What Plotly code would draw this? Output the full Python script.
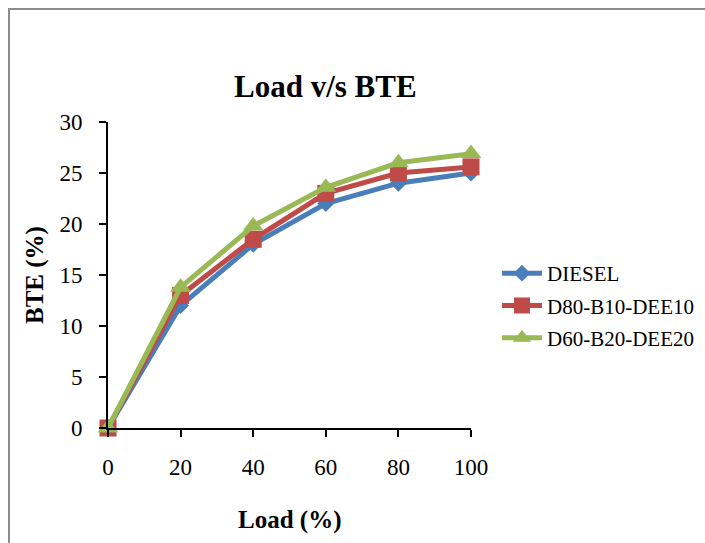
import plotly.graph_objects as go

load = [0, 20, 40, 60, 80, 100]
diesel = [0, 12, 18, 22, 24, 25]
d80 = [0, 13, 18.5, 23, 25, 25.6]
d60 = [0, 13.8, 19.8, 23.6, 26, 26.9]
y_ticks = [0, 5, 10, 15, 20, 25, 30]
x_ticks = [0, 20, 40, 60, 80, 100]

L, R, T, B = 108, 471, 122, 428
W, H = 705, 543
def px(x):
    return (x - L) / (R - L)
def py(y):
    return (B - y) / (B - T)

fig = go.Figure()
series = [
    ("DIESEL", diesel, "#4A7EBB", "diamond", 13),
    ("D80-B10-DEE10", d80, "#BE4B48", "square", 17),
    ("D60-B20-DEE20", d60, "#98B954", "triangle-up", 18),
]
for name, ys, col, sym, sz in series:
    fig.add_trace(go.Scatter(x=load, y=ys, name=name, mode="lines+markers",
                             legendgroup=name,
                             line=dict(color=col, width=5),
                             marker=dict(symbol=sym, size=sz, color=col),
                             cliponaxis=False))

font_serif = "Liberation Serif, Times New Roman, serif"
fig.update_layout(
    width=W, height=H,
    margin=dict(l=L, r=W - R, t=T, b=H - B, autoexpand=False),
    paper_bgcolor="white", plot_bgcolor="white",
    font=dict(family=font_serif, color="black", size=23),
    showlegend=True,
    legend=dict(x=px(497), y=py(253), xanchor="left", yanchor="top",
                font=dict(size=21, family=font_serif), tracegroupgap=2,
                itemwidth=40, bgcolor="rgba(0,0,0,0)"),
    xaxis=dict(range=[0, 100], tickvals=x_ticks, showline=True, linecolor="black",
               linewidth=2, ticks="outside", ticklen=7, tickcolor="black", tickwidth=2,
               showgrid=False, zeroline=False, tickfont=dict(size=23),
               ticklabelstandoff=10),
    yaxis=dict(range=[0, 30], tickvals=y_ticks, showline=True, linecolor="black",
               linewidth=2, ticks="outside", ticklen=7, tickcolor="black", tickwidth=2,
               showgrid=False, zeroline=False, tickfont=dict(size=23),
               ticklabelstandoff=12),
    annotations=[
        dict(text="<b>Load v/s BTE</b>", xref="paper", yref="paper",
             x=px(325), y=py(86), xanchor="center", yanchor="middle",
             showarrow=False, font=dict(size=31)),
        dict(text="<b>BTE (%)</b>", xref="paper", yref="paper", textangle=-90,
             x=px(35), y=py(275), xanchor="center", yanchor="middle",
             showarrow=False, font=dict(size=25)),
        dict(text="<b>Load (%)</b>", xref="paper", yref="paper",
             x=px(289), y=py(520), xanchor="center", yanchor="middle",
             showarrow=False, font=dict(size=25)),
    ],
    shapes=[dict(type="rect", xref="paper", yref="paper",
                 x0=px(9), x1=px(760), y0=py(600), y1=py(9),
                 line=dict(color="#8C8C8C", width=2), layer="below")],
)
fig.write_html("out.html")
